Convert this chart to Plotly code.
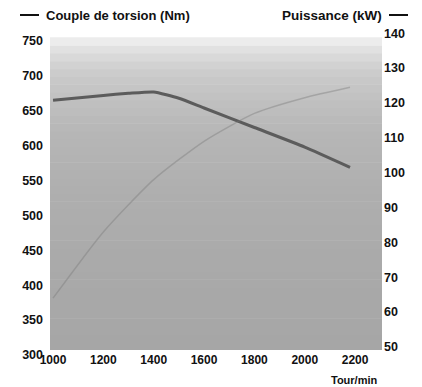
import plotly.graph_objects as go

# ---- data ----
rpm_torque = [1000, 1200, 1300, 1400, 1500, 1600, 1800, 2000, 2180]
torque_nm = [665, 672, 675, 677, 668, 654, 626, 598, 569]

rpm_power = [1000, 1200, 1400, 1600, 1800, 2000, 2180]
power_kw = [64, 83, 98, 109, 117, 121.5, 124.5]

x_ticks = [1000, 1200, 1400, 1600, 1800, 2000, 2200]
left_ticks = [300, 350, 400, 450, 500, 550, 600, 650, 700, 750]
right_ticks = [50, 60, 70, 80, 90, 100, 110, 120, 130, 140]

OFF = 8  # the page body margin shifts the figure by 8px
W, H = 422 - OFF, 387 - OFF
L, T = 50 - OFF, 33 - OFF
R = W - (383 - OFF)
B = H - (355 - OFF)
PW, PH = W - L - R, H - T - B


def px(x):
    # window pixel -> paper coordinate
    return (x - OFF - L) / PW


def py(y):
    return (H - B - (y - OFF)) / PH


FONT = dict(family="Liberation Sans, Arial, sans-serif", size=12, color="#111111", weight="bold")

fig = go.Figure()
fig.add_trace(go.Scatter(x=rpm_power, y=power_kw, yaxis="y2", mode="lines",
                         line=dict(color="rgba(120,120,120,0.4)", width=1.5, shape="spline", smoothing=0.6),
                         hoverinfo="skip", showlegend=False))
fig.add_trace(go.Scatter(x=rpm_torque, y=torque_nm, mode="lines",
                         line=dict(color="#5c5c5c", width=3, shape="spline", smoothing=0.5),
                         hoverinfo="skip", showlegend=False))

# gradient gray background
shapes = []
stops = [(0.0, 166), (0.3, 170), (0.55, 176), (0.7, 183), (0.8, 192), (0.88, 202), (0.93, 214), (0.97, 228), (1.0, 242)]
y_bot = py(350)
y_top = py(38)
n = 40
for i in range(n):
    f0 = i / n
    f1 = (i + 1) / n
    fm = (f0 + f1) / 2
    for j in range(len(stops) - 1):
        a, ca = stops[j]
        b, cb = stops[j + 1]
        if a <= fm <= b:
            c = ca + (cb - ca) * (fm - a) / (b - a)
            break
    c = int(round(c))
    shapes.append(dict(type="rect", xref="paper", yref="paper",
                       x0=px(50), x1=px(382),
                       y0=y_bot + (y_top - y_bot) * f0, y1=y_bot + (y_top - y_bot) * f1 + 0.002,
                       fillcolor=f"rgb({c},{c},{c})", line=dict(width=0), layer="below"))

# legend dashes
shapes.append(dict(type="line", xref="paper", yref="paper", x0=px(20), x1=px(39), y0=py(15), y1=py(15),
                   line=dict(color="#111111", width=2)))
shapes.append(dict(type="line", xref="paper", yref="paper", x0=px(389), x1=px(408), y0=py(15), y1=py(15),
                   line=dict(color="#111111", width=2)))

annotations = [
    dict(text="Couple de torsion (Nm)", xref="paper", yref="paper", x=px(44), y=py(15),
         xanchor="left", yanchor="middle", showarrow=False, font=dict(FONT, size=13)),
    dict(text="Puissance (kW)", xref="paper", yref="paper", x=px(384), y=py(15),
         xanchor="right", yanchor="middle", showarrow=False, font=dict(FONT, size=13.5)),
    dict(text="Tour/min", xref="paper", yref="paper", x=px(354), y=py(380),
         xanchor="center", yanchor="middle", showarrow=False, font=dict(FONT, size=11)),
]

fig.update_layout(
    width=W, height=H,
    margin=dict(l=L, r=R, t=T, b=B, autoexpand=False),
    paper_bgcolor="white", plot_bgcolor="rgba(0,0,0,0)",
    font=FONT,
    showlegend=False,
    shapes=shapes,
    annotations=annotations,
    xaxis=dict(range=[988, 2311], tickvals=x_ticks, showgrid=False, zeroline=False,
               showline=False, ticks="", tickfont=FONT, fixedrange=True, automargin=False,
               ticklabelstandoff=-4),
    yaxis=dict(range=[299.9, 761.5], tickvals=left_ticks, showgrid=False, zeroline=False,
               showline=False, ticks="", tickfont=dict(FONT, size=12.5), fixedrange=True,
               automargin=False, ticklabelstandoff=6),
    yaxis2=dict(range=[47.7, 140.05], tickvals=right_ticks, overlaying="y", side="right",
                showgrid=False, zeroline=False, showline=False, ticks="",
                tickfont=dict(FONT, size=12.5), fixedrange=True, automargin=False),
)

fig.write_html("out.html")
